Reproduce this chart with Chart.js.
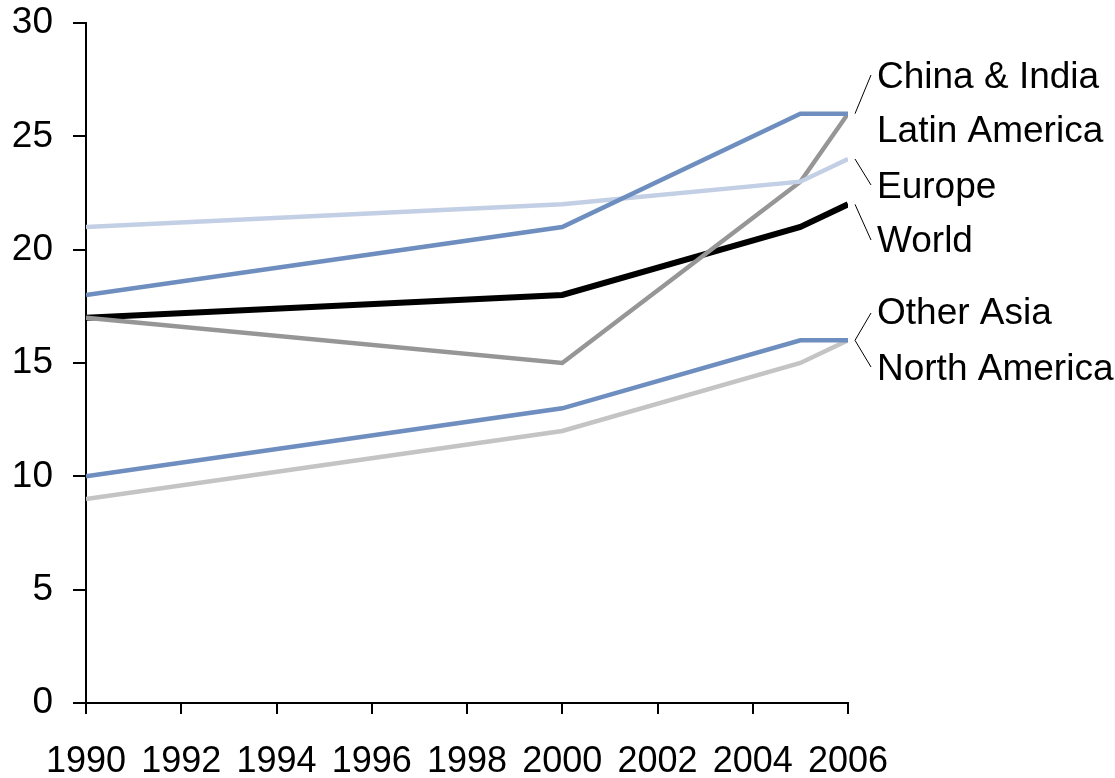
<!DOCTYPE html>
<html>
<head>
<meta charset="utf-8">
<script src="https://cdn.jsdelivr.net/npm/chart.js@4/dist/chart.umd.min.js"></script>
<style>
  html, body { margin: 0; padding: 0; background: #fff; }
  #wrap { width: 1115px; height: 778px; }
</style>
</head>
<body>
<div id="wrap"><canvas id="c" width="1115" height="778"></canvas></div>
<script>
// Years at which each region was measured
const years = [1990, 2000, 2005, 2006];

// Series values per region
const latinAmerica = [18, 21, 26, 26];
const europe       = [21, 22, 23, 24];
const chinaIndia   = [17, 15, 23, 26];
const world        = [17, 18, 21, 22];
const otherAsia    = [10, 13, 16, 16];
const northAmerica = [9, 12, 15, 16];

// Axis ticks
const xTicks = [1990, 1992, 1994, 1996, 1998, 2000, 2002, 2004, 2006];
const yTicks = [0, 5, 10, 15, 20, 25, 30];

const FONT = '"Liberation Sans", Arial, sans-serif';

function pts(vals) { return years.map((y, i) => ({ x: y, y: vals[i] })); }

// Series styles (first listed is drawn on top)
const series = [
  { name: 'Latin America', values: latinAmerica, color: '#6E8EBF', width: 4.5 },
  { name: 'Europe',        values: europe,       color: '#C3CFE4', width: 4.5 },
  { name: 'China & India', values: chinaIndia,   color: '#969696', width: 4.5 },
  { name: 'World',         values: world,        color: '#000000', width: 6 },
  { name: 'Other Asia',    values: otherAsia,    color: '#6E8EBF', width: 4.5 },
  { name: 'North America', values: northAmerica, color: '#C4C4C4', width: 4.5 }
];

// End-of-line labels: text position and where its leader line ends
const endLabels = [
  { text: 'China & India', series: 'China & India', ty: 78,  leader: 75 },
  { text: 'Latin America', series: null,            ty: 132, leader: null },
  { text: 'Europe',        series: 'Europe',        ty: 188, leader: 185 },
  { text: 'World',         series: 'World',         ty: 242, leader: 240 },
  { text: 'Other Asia',    series: 'Other Asia',    ty: 314, leader: 313 },
  { text: 'North America', series: 'North America', ty: 370, leader: 367 }
];

const endLabelPlugin = {
  id: 'endLabels',
  afterDraw(chart) {
    const ctx = chart.ctx;
    const xs = chart.scales.x, ys = chart.scales.y;
    const lastYear = years[years.length - 1];
    const x0 = xs.getPixelForValue(lastYear);
    ctx.save();
    ctx.strokeStyle = '#000';
    ctx.lineWidth = 1;
    ctx.fillStyle = '#000';
    ctx.font = '37px ' + FONT;
    ctx.textBaseline = 'middle';
    ctx.textAlign = 'left';
    endLabels.forEach(l => {
      if (l.series) {
        const s = series.find(d => d.name === l.series);
        const yv = ys.getPixelForValue(s.values[s.values.length - 1]);
        ctx.beginPath();
        ctx.moveTo(x0 + 7, yv);
        ctx.lineTo(x0 + 23, l.leader);
        ctx.stroke();
      }
      ctx.fillText(l.text, x0 + 29, l.ty);
    });
    ctx.restore();
  }
};

new Chart(document.getElementById('c'), {
  type: 'line',
  data: {
    datasets: series.map((s, i) => ({
      label: s.name,
      data: pts(s.values),
      borderColor: s.color,
      backgroundColor: s.color,
      borderWidth: s.width,
      pointRadius: 0,
      tension: 0,
      fill: false,
      order: i,
      borderCapStyle: 'butt',
      borderJoinStyle: 'miter'
    }))
  },
  options: {
    responsive: false,
    animation: false,
    events: [],
    layout: { padding: { left: 0, right: 267, top: 23, bottom: 0 } },
    plugins: { legend: { display: false }, tooltip: { enabled: false } },
    scales: {
      x: {
        type: 'linear',
        min: 1990, max: 2006,
        afterBuildTicks: s => { s.ticks = xTicks.map(v => ({ value: v })); },
        afterFit: s => { s.height = 75; s.paddingLeft = 0; s.paddingRight = 0; },
        border: { display: true, color: '#000', width: 2 },
        grid: { display: true, drawOnChartArea: false, drawTicks: true, tickLength: 11, color: '#000', lineWidth: 2 },
        ticks: {
          color: '#000', padding: 26, maxRotation: 0, autoSkip: false,
          font: { family: FONT, size: 36 },
          callback: v => String(v)
        }
      },
      y: {
        min: 0, max: 30,
        afterBuildTicks: s => { s.ticks = yTicks.map(v => ({ value: v })); },
        afterFit: s => { s.width = 86; s.paddingTop = 0; s.paddingBottom = 0; },
        border: { display: true, color: '#000', width: 2 },
        grid: { display: true, drawOnChartArea: false, drawTicks: true, tickLength: 13, color: '#000', lineWidth: 2 },
        ticks: {
          color: '#000', padding: 20,
          font: { family: FONT, size: 37 },
          callback: v => String(v)
        }
      }
    }
  },
  plugins: [endLabelPlugin]
});
</script>
</body>
</html>
